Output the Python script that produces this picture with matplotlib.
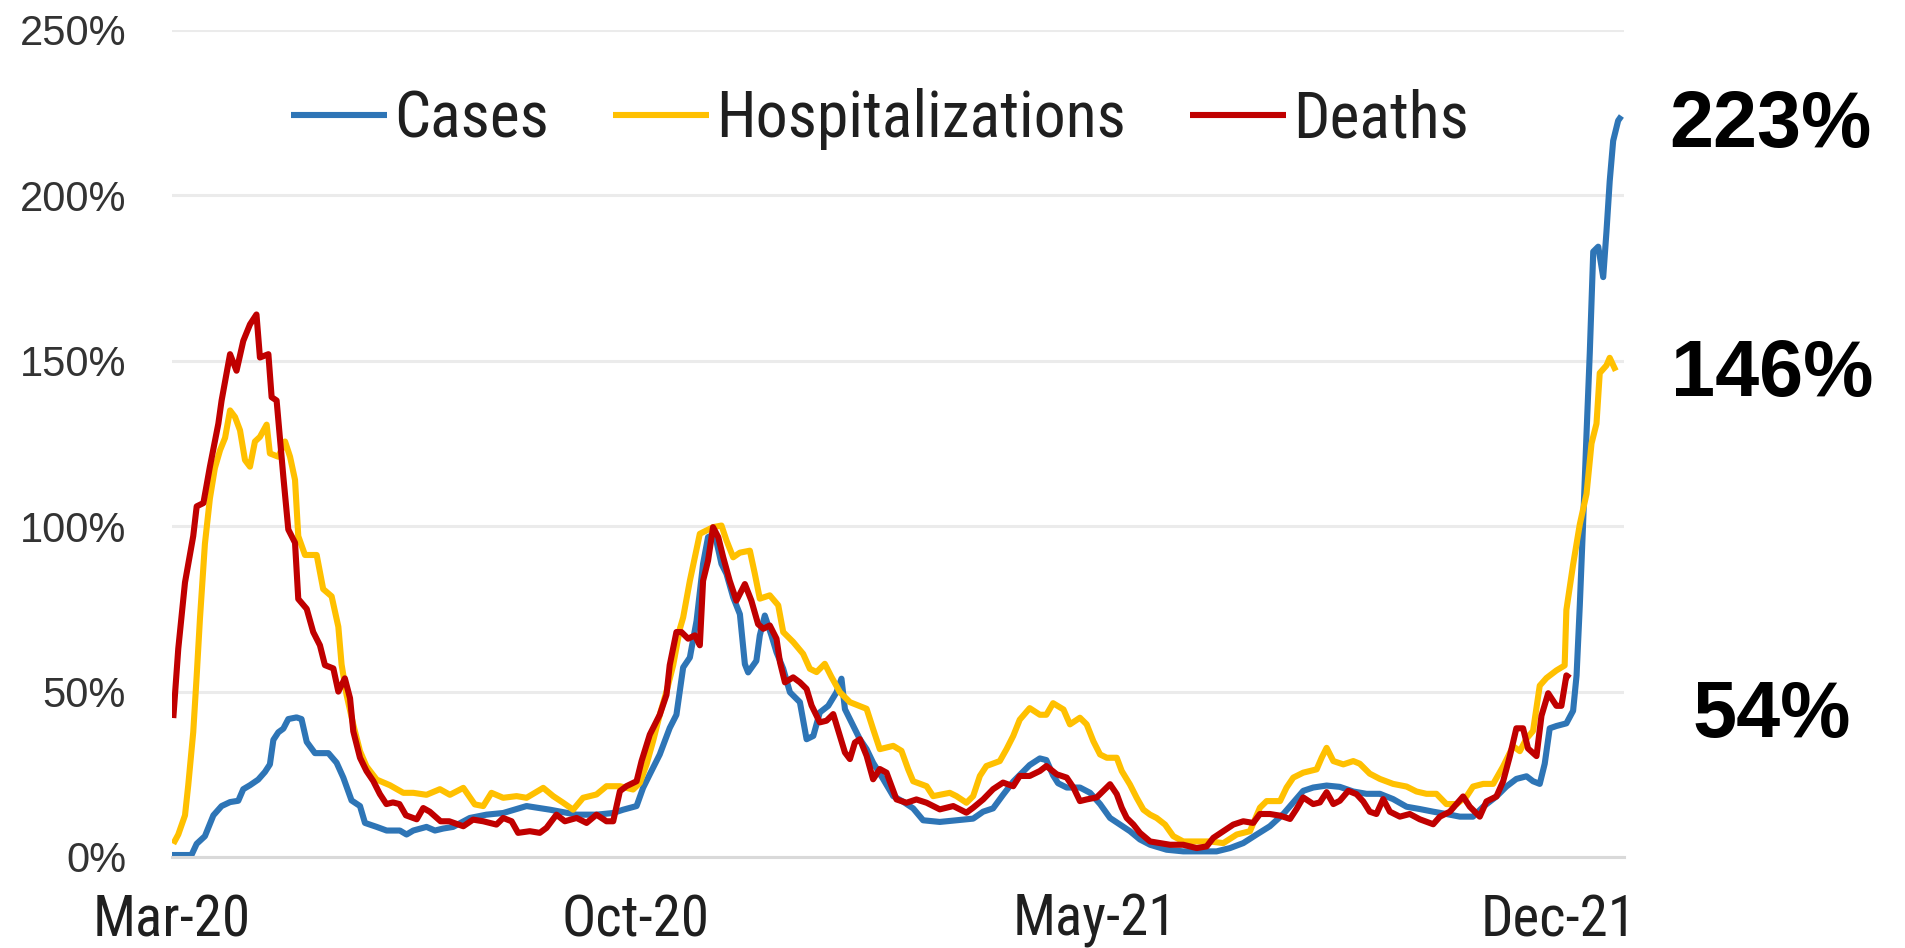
import matplotlib
matplotlib.use("Agg")
import matplotlib.pyplot as plt
import matplotlib.dates as mdates
from matplotlib import font_manager as fm
import numpy as np
import datetime as dt


def pick_font(*names):
    for n in names:
        try:
            fm.findfont(fm.FontProperties(family=n), fallback_to_default=False)
            return n
        except ValueError:
            pass
    return "DejaVu Sans"


NARROW = pick_font("Liberation Sans Narrow", "Roboto Condensed", "Liberation Sans")
REGULAR = pick_font("Liberation Sans", "Arial", "DejaVu Sans")

# day offsets are counted from the first data point
start_date = dt.date(2020, 3, 5)
end_day = 670.4
tick_dates = [dt.date(2020, 3, 5), dt.date(2020, 10, 5), dt.date(2021, 5, 5), dt.date(2021, 12, 5)]
tick_labels = ["Mar-20", "Oct-20", "May-21", "Dec-21"]

cases_day = [
    0, 9, 11.4, 15.2, 19.1, 22.9, 26.8, 30.6, 32.9, 36,
    39.8, 42.9, 45.2, 46.8, 49.1, 51.4, 53.7, 57.5, 59.8, 62.2,
    66, 72.2, 76, 79.1, 82.9, 86.8, 89.1, 94.5, 99.1, 105.2,
    108.3, 111.4, 117.5, 121.4, 125.2, 129.8, 137.5, 145.2, 152.9, 163.7,
    174.5, 186.8, 196, 203.7, 208.3, 214.5, 217.5, 220.6, 225.2, 229.8,
    232.9, 236, 239.1, 242.2, 245.2, 247.5, 250.6, 253.7, 256, 259.1,
    262.2, 264.5, 266, 269.8, 271.4, 273.7, 276.8, 279.1, 282.2, 285.3,
    289.9, 293, 296.1, 299.1, 303, 306.8, 309.1, 310.7, 314.5, 317.6,
    320.7, 323.7, 328.4, 333, 337.6, 342.2, 346.8, 354.5, 362.2, 369.9,
    374.5, 379.1, 383.7, 388.4, 393, 396, 400.7, 403.7, 406.8, 409.1,
    413.1, 419.2, 423.9, 428.5, 433.1, 437.7, 442.3, 446.9, 451.6, 459.2,
    466.9, 474.6, 482.3, 488.5, 494.6, 500.8, 506.9, 513.1, 517.7, 522.3,
    526.9, 533.1, 539.2, 545.4, 551.5, 557.7, 563.8, 570, 576.1, 582.3,
    588.4, 594.6, 600.7, 605.4, 611.5, 616.1, 620.7, 625.4, 628.4, 631.5,
    633.8, 636.1, 639.2, 643.8, 646.9, 648.5, 650, 651.5, 653.1, 654.6,
    656.2, 658.5, 660.8, 662.3, 663.8, 665.4, 667.7, 669.2,
]
cases_pct = [
    0.6, 0.6, 4, 6.3, 12.6, 15.4, 16.6, 17, 20.5, 21.7,
    23.4, 25.7, 28, 35.4, 37.7, 38.8, 41.7, 42.2, 41.7, 34.8,
    31.4, 31.4, 28.5, 24, 17.1, 15.4, 10.3, 9.1, 8, 8,
    6.8, 8, 9.1, 8, 8.6, 9.1, 11.8, 12.8, 13.3, 15.4,
    14.3, 12.8, 12.8, 13.3, 14.3, 15.4, 20.9, 25, 31, 39,
    43, 57.3, 60.3, 71.4, 88.6, 96.7, 97.7, 88.6, 85.6, 78.5,
    73.4, 58.3, 55.8, 59.3, 67, 73, 66.9, 61.9, 56.9, 49.8,
    46.8, 35.6, 36.6, 43.7, 45.7, 49.8, 53.9, 44.7, 39.7, 35.6,
    32.6, 28.5, 23.5, 18.4, 16.7, 14.7, 11.1, 10.6, 11.1, 11.6,
    13.7, 14.7, 18.8, 22.8, 25.8, 27.8, 29.8, 29.3, 24.7, 22.3,
    21, 21, 19.4, 16, 11.8, 9.8, 7.8, 5.3, 3.7, 2.2,
    1.7, 1.7, 1.7, 2.7, 4.2, 6.8, 9.3, 13, 16.5, 20,
    21, 21.6, 21.2, 19.8, 19.1, 19.1, 17.5, 15.2, 14.5, 13.7,
    13, 12.2, 12.2, 15.2, 18.3, 21.3, 23.6, 24.4, 22.9, 22.1,
    28.2, 38.9, 39.6, 40.4, 44.2, 54.9, 76.2, 100.6, 128, 152.4,
    183, 184.5, 175.3, 189, 204.3, 216.5, 222.6, 224,
]

hosp_day = [
    0.6, 2.9, 6, 7.5, 9.8, 11.4, 12.9, 15.2, 17.5, 19.8,
    22.2, 24.5, 26.8, 29.1, 31.4, 33.7, 36, 38.3, 40.6, 43.7,
    45.2, 49.1, 52.2, 54.5, 56.8, 58.3, 61.4, 66.8, 69.8, 73.7,
    76.8, 78.3, 80.6, 83.7, 86.8, 89.8, 94.5, 100.6, 106.8, 111.4,
    117.5, 123.7, 128.3, 134.5, 139.8, 143.7, 147.5, 152.9, 159.1, 163.7,
    171.4, 176, 180.6, 185.2, 189.8, 196, 200.6, 206.8, 212.9, 216,
    219.1, 222.1, 225.2, 228.3, 231.4, 234.5, 236, 239.1, 241.4, 243.7,
    246.8, 249.8, 253.7, 256, 259.1, 262.2, 266.8, 269.1, 271.4, 276,
    279.9, 282.2, 286.8, 291.4, 294.5, 297.6, 301.4, 304.5, 308.4, 313,
    320.7, 323.7, 326.8, 333, 336.8, 339.9, 342.2, 348.4, 351.4, 359.1,
    362.2, 366.8, 369.9, 373, 376, 382.2, 385.3, 388.4, 391.4, 396,
    400.7, 403.7, 406.8, 411.6, 414.6, 419.2, 422.3, 425.4, 428.5, 431.6,
    436.2, 438.5, 442.3, 445.4, 448.5, 451.6, 454.6, 458.5, 462.3, 466.9,
    473.1, 479.2, 485.4, 491.6, 497.7, 502.3, 505.4, 511.6, 514.6, 517.7,
    522.3, 528.5, 530.8, 533.1, 536.2, 540.8, 545.4, 548.4, 553, 557.7,
    563.8, 570, 574.6, 579.2, 583.8, 588.4, 593.1, 597.7, 600.7, 605.4,
    610, 614.6, 619.2, 622.3, 625.4, 628.4, 631.5, 634.6, 639.2, 643,
    643.8, 646.9, 650, 653.1, 655.4, 657.7, 659.2, 662.3, 663.8, 666.6,
]
hosp_pct = [
    4, 6.8, 12.6, 21.7, 37.7, 54.8, 72, 94.7, 108.4, 117.6,
    123, 126.7, 135, 133, 129, 120, 118, 125.6, 127, 130.7,
    122, 121, 125.6, 121, 114, 97, 91.3, 91.3, 81, 78.8,
    69.6, 58.2, 49, 40, 32, 27.4, 23.4, 21.7, 19.4, 19.4,
    18.8, 20.5, 18.8, 20.9, 15.9, 15.4, 19.4, 17.9, 18.4, 17.9,
    20.9, 18.4, 16.4, 14.3, 17.9, 18.9, 21.4, 21.4, 20.4, 22.4,
    28, 35, 43, 50, 58, 69, 72.4, 83.5, 90.6, 97.7,
    98.7, 99.7, 100.2, 95.7, 90.6, 92, 92.6, 85.6, 78.1, 79.1,
    76.1, 68, 65, 61.4, 56.9, 55.9, 58.4, 54.4, 49.8, 46.8,
    44.8, 38.7, 32.6, 33.6, 32.1, 26.5, 22.9, 21.4, 18.4, 19.4,
    18.4, 16.4, 18.4, 24.5, 27.5, 29, 32.6, 36.6, 41.5, 45,
    43, 43, 46.5, 44.6, 40.1, 42.1, 40.1, 35, 31, 30,
    30, 26, 21.9, 17.9, 14.3, 12.8, 11.8, 9.8, 6.3, 4.7,
    4.7, 4.7, 4.2, 6.8, 7.8, 14.9, 16.9, 16.9, 21, 24,
    25.5, 26.5, 30, 33, 29, 28, 29, 28.2, 25.2, 23.6,
    22.1, 21.3, 19.8, 19.1, 19.1, 16, 16, 18.3, 21.3, 22.1,
    22.1, 27.4, 33.5, 32, 35.8, 38.1, 51.8, 54.1, 56.4, 57.9,
    74.7, 88.4, 100.6, 109.8, 125, 131, 146.3, 148.6, 150.9, 147,
]

deaths_day = [
    0.6, 2.9, 6, 9.8, 11.4, 14.5, 17.5, 21.4, 22.9, 26.8,
    29.8, 32.9, 36, 39, 40.6, 44.5, 46, 48.3, 51.4, 53.7,
    56.8, 58.3, 62.2, 65.2, 68.3, 70.6, 74.5, 76.8, 79.8, 82.2,
    83.7, 86.8, 89.8, 92.9, 96, 99, 102, 105, 108, 113,
    116, 119, 124, 128, 134.5, 139, 143.7, 149.8, 152.9, 156.8,
    159.8, 165.2, 169.8, 172.9, 177.5, 181.4, 186.8, 191.4, 196, 200.6,
    203.7, 206.8, 209.8, 214.5, 216.8, 220.6, 225.2, 228.3, 229.8, 232.9,
    235.2, 238.3, 241.4, 243.7, 245.2, 247.5, 249.8, 252.2, 254.5, 257.5,
    260.6, 264.5, 267.5, 270.6, 273, 276, 279.1, 280.7, 283, 286.8,
    289.9, 293, 295.3, 299.1, 302.2, 305.3, 308.4, 310.7, 313, 315.3,
    317.6, 320.7, 323.7, 326.8, 329.9, 334.5, 339.1, 343.7, 348.4, 354.5,
    360.7, 366.8, 369.9, 374.5, 379.1, 383.7, 388.4, 391.4, 396, 400.7,
    403.7, 408.5, 413.1, 416.2, 419.2, 422.3, 426.9, 430, 433.1, 436.2,
    438.5, 440.8, 443.9, 446.9, 451.6, 456.2, 460.8, 466.9, 473.1, 477.7,
    480.8, 485.4, 490, 494.6, 499.2, 502.3, 506.9, 511.6, 516.2, 519.2,
    522.3, 526.9, 530, 533.1, 536.2, 539.2, 543.1, 546.9, 550, 553,
    556.1, 559.2, 562.3, 566.9, 571.5, 576.1, 582.3, 585.4, 590, 596.1,
    599.2, 603.8, 606.9, 611.5, 614.6, 617.7, 620.7, 623.8, 626.1, 630,
    632.3, 635.4, 639.2, 641.5, 643.8, 645.4,
]
deaths_pct = [
    42, 63, 83, 97, 106, 107, 118, 131, 138, 152,
    147, 156, 161, 164, 151, 152, 139, 138, 115, 99,
    95, 78, 75, 68, 64, 58, 57, 50, 54, 48,
    38, 30, 26, 23, 19, 16, 16.5, 16, 12.6, 11.4,
    14.8, 13.7, 10.8, 10.8, 9.3, 11.3, 10.8, 9.8, 11.8, 10.8,
    7.3, 7.8, 7.3, 8.8, 12.8, 10.8, 11.8, 10.3, 12.8, 10.8,
    10.8, 19.9, 21.4, 22.9, 29, 37, 43, 49, 58, 68,
    68, 66, 67, 64, 83.5, 89.6, 99.7, 96.7, 90.6, 83.5,
    77.5, 82.5, 77.5, 70.4, 69, 70, 66, 58.9, 52.8, 54.3,
    52.8, 50.8, 45.8, 40.7, 41.2, 43.2, 36.6, 31.6, 29.6, 34.6,
    35.6, 30.6, 23.5, 26.6, 25.5, 17.4, 16.4, 17.4, 16.4, 14.4,
    15.4, 13.4, 14.9, 17.4, 20.5, 22.5, 21.4, 24.5, 24.5, 26,
    27.5, 25, 24, 21, 16.9, 17.4, 18, 20, 22, 19,
    14.9, 11.8, 9.8, 7.3, 4.7, 4.2, 3.7, 3.7, 2.7, 3.2,
    5.8, 7.8, 9.8, 10.8, 10.3, 13, 13, 12.5, 11.5, 14.5,
    18, 16, 16.5, 19.6, 16, 17, 20, 19, 16.8, 13.7,
    13, 17.5, 13.7, 12.2, 13, 11.4, 9.9, 12.2, 13.7, 18.3,
    15.2, 12.2, 16.8, 18.3, 22.9, 30.5, 38.9, 38.9, 32.8, 30.5,
    42.7, 49.5, 45.7, 45.7, 54.9, 54.1,
]

latest_labels = ["223%", "146%", "54%"]

colors = {"Cases": "#2E75B6", "Hospitalizations": "#FFC000", "Deaths": "#C00000"}

base = mdates.date2num(start_date)

fig = plt.figure(figsize=(19.06, 9.48), dpi=100)
W, H = 1906, 948
ax = fig.add_axes([172 / W, (H - 857) / H, (1624 - 172) / W, (857 - 30) / H])

series = [
    ("Cases", cases_day, cases_pct),
    ("Hospitalizations", hosp_day, hosp_pct),
    ("Deaths", deaths_day, deaths_pct),
]
for name, days, vals in series:
    x = base + np.asarray(days, dtype=float)
    ax.plot(x, vals, color=colors[name], lw=4.4, label=name,
            solid_joinstyle="round", solid_capstyle="butt")

ax.set_xlim(base, base + end_day)
ax.set_ylim(0, 250)

ax.set_yticks(np.arange(0, 251, 50))
ax.set_yticklabels([f"{v}%" for v in range(0, 251, 50)])
ax.set_xticks([mdates.date2num(d) for d in tick_dates])
ax.set_xticklabels(tick_labels)

ax.grid(axis="y", color="#EBEBEB", lw=2.2)
ax.set_axisbelow(True)
for s in ["top", "right", "left"]:
    ax.spines[s].set_visible(False)
ax.spines["bottom"].set_color("#D9D9D9")
ax.spines["bottom"].set_linewidth(2.2)

ax.tick_params(axis="both", length=0)
ax.tick_params(axis="y", pad=33)
ax.tick_params(axis="x", pad=26)
for lab in ax.get_yticklabels():
    lab.set_fontfamily(REGULAR)
    lab.set_fontsize(30)
    lab.set_color("#333333")
for lab in ax.get_xticklabels():
    lab.set_fontfamily(NARROW)
    lab.set_fontsize(41)
    lab.set_color("#1F1F1F")

leg = ax.legend(loc="center", bbox_to_anchor=(880 / W, 1 - 119 / H),
                bbox_transform=fig.transFigure, ncol=3, frameon=False,
                handlelength=1.5, handletextpad=0.12, columnspacing=1.0,
                prop={"family": NARROW, "size": 46})
for t in leg.get_texts():
    t.set_color("#1F1F1F")

# latest values, printed at the right of the plot
label_pos = [(1770, 147), (1772, 396), (1772, 737)]
for txt, (px, py) in zip(latest_labels, label_pos):
    fig.text(px / W, 1 - py / H, txt, ha="center", va="baseline",
             fontsize=57, fontweight="bold", family=REGULAR, color="black")

fig.savefig("out.png", dpi=100)
